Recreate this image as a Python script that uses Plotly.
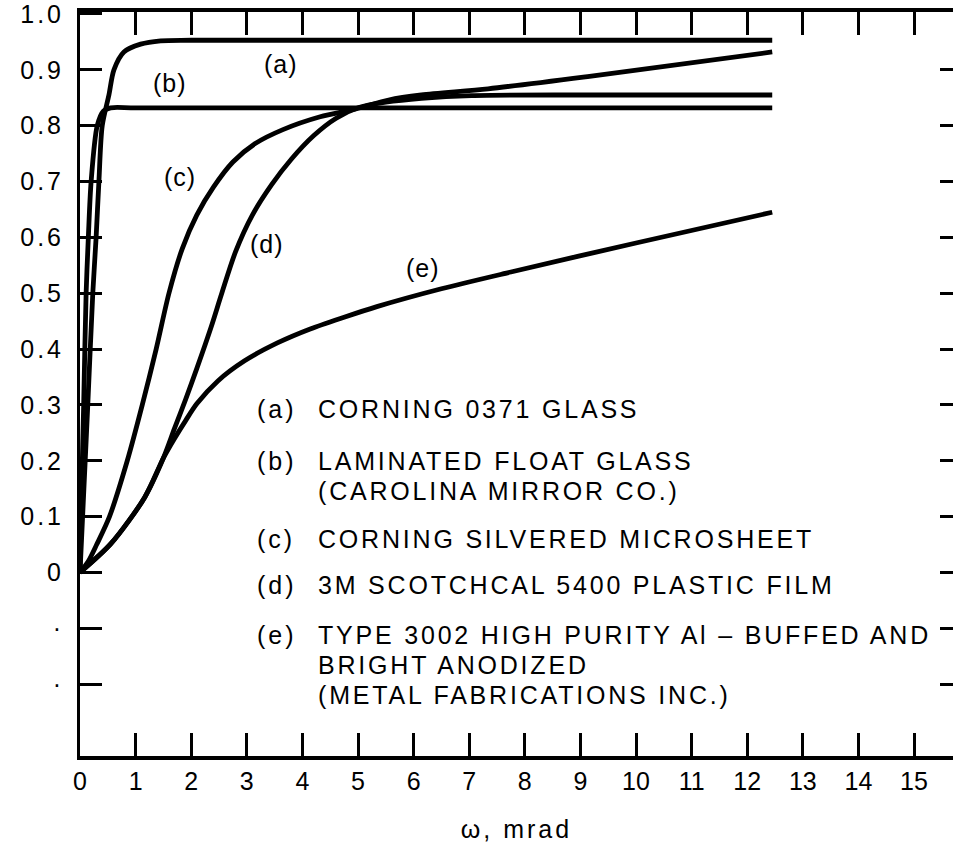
import plotly.graph_objects as go

# ---------------- data ----------------
x_a = [0, 0.07, 0.14, 0.23, 0.29, 0.34, 0.40, 0.52, 0.61, 0.79, 1.09, 1.45, 2.0, 12.45]
y_a = [0, 0.15, 0.30, 0.50, 0.60, 0.70, 0.80, 0.855, 0.90, 0.932, 0.946, 0.952, 0.953, 0.953]

x_b = [0, 0.03, 0.066, 0.11, 0.15, 0.20, 0.31, 0.42, 0.55, 1.0, 12.45]
y_b = [0, 0.15, 0.30, 0.50, 0.60, 0.70, 0.80, 0.826, 0.832, 0.832, 0.832]

x_c = [0, 0.15, 0.3, 0.53, 0.85, 1.12, 1.37, 1.6, 1.84, 2.1, 2.4, 2.75, 3.15, 3.65,
       4.32, 4.96, 5.55, 6.14, 7.34, 9.13, 12.45]
y_c = [0, 0.02, 0.05, 0.10, 0.20, 0.30, 0.40, 0.50, 0.58, 0.64, 0.69, 0.735, 0.768, 0.793,
       0.816, 0.83, 0.846, 0.855, 0.866, 0.888, 0.932]

x_d = [0, 0.56, 1.16, 1.5, 1.7, 1.9, 2.1, 2.36, 2.55, 2.8, 3.1, 3.45, 3.8,
       4.2, 4.6, 5.0, 5.5, 6.14, 7.04, 9.1, 12.45]
y_d = [0, 0.052, 0.134, 0.205, 0.258, 0.31, 0.365, 0.44, 0.50, 0.575, 0.64, 0.695, 0.74,
       0.782, 0.813, 0.832, 0.842, 0.849, 0.854, 0.855, 0.855]

x_e = [0, 0.56, 1.16, 1.5, 1.7, 1.9, 2.1, 2.48, 2.96, 3.55, 4.14, 4.75, 5.34,
       6.5, 7.75, 10.0, 12.45]
y_e = [0, 0.052, 0.134, 0.205, 0.24, 0.272, 0.302, 0.343, 0.379, 0.411, 0.436, 0.457, 0.476,
       0.508, 0.538, 0.59, 0.645]

series_tags = ["(a)", "(b)", "(c)", "(d)", "(e)"]
series_names = [
    ["CORNING 0371 GLASS"],
    ["LAMINATED FLOAT GLASS", "(CAROLINA MIRROR CO.)"],
    ["CORNING SILVERED MICROSHEET"],
    ["3M SCOTCHCAL 5400 PLASTIC FILM"],
    ["TYPE 3002 HIGH PURITY Al \u2013 BUFFED AND", "BRIGHT ANODIZED", "(METAL FABRICATIONS INC.)"],
]

x_tick_vals = list(range(0, 16))
x_tick_text = [str(v) for v in x_tick_vals]
y_tick_vals = [-0.2, -0.1, 0, 0.1, 0.2, 0.3, 0.4, 0.5, 0.6, 0.7, 0.8, 0.9, 1.0]
y_tick_text = ["\u00b7", "\u00b7", "0", "0.1", "0.2", "0.3", "0.4", "0.5", "0.6", "0.7", "0.8", "0.9", "1.0"]
x_title = "\u03c9, mrad"

# ---------------- layout geometry ----------------
W, H = 953, 854
L, R, T, B = 80, 953, 10, 756          # plot area in pixels
XMAX = (R - L) / 55.6
Y0PX, PXU = 572, 560.0
YMAX = (Y0PX - T) / PXU
YMIN = -(B - Y0PX) / PXU

FONT = "Liberation Sans"


def px_to_paper(px, py):
    return (px - L) / (R - L), (B - py) / (B - T)


def spaced(txt, ls):
    return '<span style="letter-spacing:%spx">%s</span>' % (ls, txt)


fig = go.Figure()
axes_for = ["y", "y", "y", "y", "y2"]   # y2 is an identical right-hand copy of y
for xs, ys, nm, ya in zip([x_a, x_b, x_c, x_d, x_e], [y_a, y_b, y_c, y_d, y_e], series_tags, axes_for):
    fig.add_trace(go.Scatter(
        x=xs, y=ys, mode="lines", name=nm, showlegend=False, yaxis=ya,
        line=dict(color="black", width=4.8, shape="spline", smoothing=0.8),
        hoverinfo="skip",
    ))

annotations = []
# curve labels
curve_label_px = [(281, 62), (170, 81), (180, 175), (267, 243), (423, 267)]
for tag, (px, py) in zip(series_tags, curve_label_px):
    xp, yp = px_to_paper(px, py)
    annotations.append(dict(x=xp, y=yp, xref="paper", yref="paper", text=spaced(tag, 1),
                            showarrow=False, xanchor="center", yanchor="middle",
                            font=dict(family=FONT, size=25, color="black")))

# key text
tag_rows_py = [408, 460, 538, 585, 635]
for tag, lines, py in zip(series_tags, series_names, tag_rows_py):
    xp, yp = px_to_paper(255, py)
    annotations.append(dict(x=xp, y=yp, xref="paper", yref="paper", text=spaced(tag, 3),
                            showarrow=False, xanchor="left", yanchor="middle",
                            font=dict(family=FONT, size=25, color="black")))
    for i, ln in enumerate(lines):
        xp, yp = px_to_paper(316, py + 30 * i)
        annotations.append(dict(x=xp, y=yp, xref="paper", yref="paper", text=spaced(ln, 2.8),
                                showarrow=False, xanchor="left", yanchor="middle",
                                font=dict(family=FONT, size=25, color="black")))

fig.update_layout(
    width=W, height=H,
    margin=dict(l=L, r=W - R, t=T, b=H - B, pad=0),
    paper_bgcolor="white", plot_bgcolor="white",
    showlegend=False,
    annotations=annotations,
    xaxis=dict(
        range=[0, XMAX], showgrid=False, zeroline=False,
        showline=True, linecolor="black", linewidth=3.5, mirror="ticks",
        ticks="inside", ticklen=23, tickwidth=2.5, tickcolor="black",
        tickvals=x_tick_vals, ticktext=x_tick_text, ticklabelstandoff=0,
        tickfont=dict(family=FONT, size=25, color="black"),
        title=dict(text=spaced(x_title, 3), standoff=28,
                   font=dict(family=FONT, size=25, color="black")),
    ),
    yaxis=dict(
        range=[YMIN, YMAX], showgrid=False, zeroline=False,
        showline=True, linecolor="black", linewidth=3,
        ticks="inside", ticklen=22, tickwidth=2.5, tickcolor="black",
        tickvals=y_tick_vals, ticktext=[spaced(t, 3) for t in y_tick_text], ticklabelstandoff=8,
        ticklabeloverflow="allow",
        tickfont=dict(family=FONT, size=25, color="black"),
    ),
    yaxis2=dict(
        overlaying="y", side="right", anchor="x", range=[YMIN, YMAX],
        showgrid=False, zeroline=False, showline=False,
        ticks="inside", ticklen=13, tickwidth=2.5, tickcolor="black",
        tickvals=y_tick_vals[:-1], showticklabels=False,
    ),
)

fig.write_html("out.html", config={"displayModeBar": False},
               post_script="document.body.style.margin='0px';")
